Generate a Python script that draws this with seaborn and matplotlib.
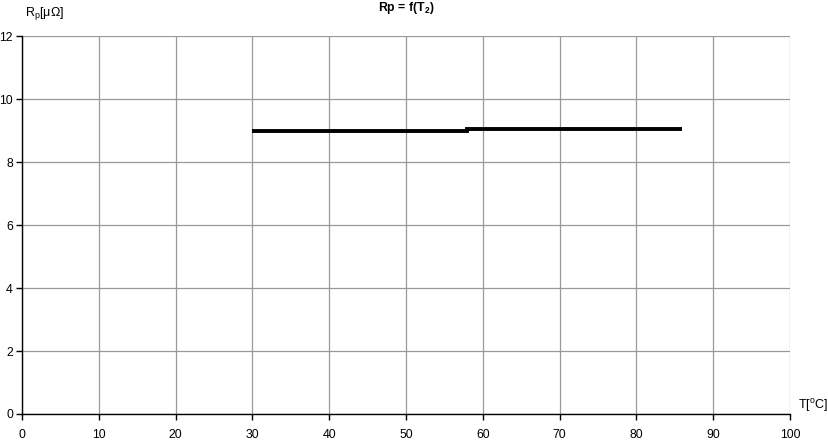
import pandas as pd
import seaborn as sns
import matplotlib.pyplot as plt

# temperature T2 [C] and resistance Rp [micro-ohm]
temperature = [30, 58, 58, 86]
resistance = [9.00, 9.00, 9.05, 9.05]

x_ticks = [0, 10, 20, 30, 40, 50, 60, 70, 80, 90, 100]
y_ticks = [0, 2, 4, 6, 8, 10, 12]

df = pd.DataFrame({'T': temperature, 'Rp': resistance})

sns.set_style('white')
plt.rcParams['font.family'] = ['Liberation Sans', 'DejaVu Sans']
plt.rcParams['mathtext.default'] = 'regular'
plt.rcParams['font.size'] = 9
plt.rcParams['text.color'] = 'black'
plt.rcParams['xtick.color'] = 'black'
plt.rcParams['ytick.color'] = 'black'

fig = plt.figure(figsize=(8.29, 4.41), dpi=100)
ax = fig.add_axes([22 / 829, 1 - 414 / 441, 768 / 829, 378 / 441])

sns.lineplot(data=df, x='T', y='Rp', color='black', linewidth=2.8,
             sort=False, estimator=None, ax=ax,
             solid_capstyle='butt', solid_joinstyle='miter')

ax.set_xlim(0, 100)
ax.set_ylim(0, 12)
ax.set_xticks(x_ticks)
ax.set_yticks(y_ticks)
ax.grid(True, color='#999999', linewidth=0.9)
ax.set_axisbelow(True)

for side in ['top', 'right']:
    ax.spines[side].set_visible(False)
for side in ['left', 'bottom']:
    ax.spines[side].set_color('black')
    ax.spines[side].set_linewidth(1.0)

ax.tick_params(axis='both', direction='out', length=4, width=1.0,
               color='black', labelcolor='black', labelsize=8.8,
               bottom=True, left=True)
ax.tick_params(axis='x', pad=6.5)
ax.tick_params(axis='y', pad=2.5)

ax.set_xlabel('')
ax.set_ylabel('')
fig.text(25 / 829, 1 - 14 / 441, 'R$_p$[μΩ]', fontsize=9, va='center', ha='left')
fig.text(798 / 829, 1 - 406 / 441, 'T[$^o$C]', fontsize=9, va='center', ha='left')
fig.text(406 / 829, 1 - 8 / 441, 'Rp = f(T$_2$)', fontsize=8.8, fontweight='bold',
         va='center', ha='center')

fig.savefig('out.png', dpi=100)
